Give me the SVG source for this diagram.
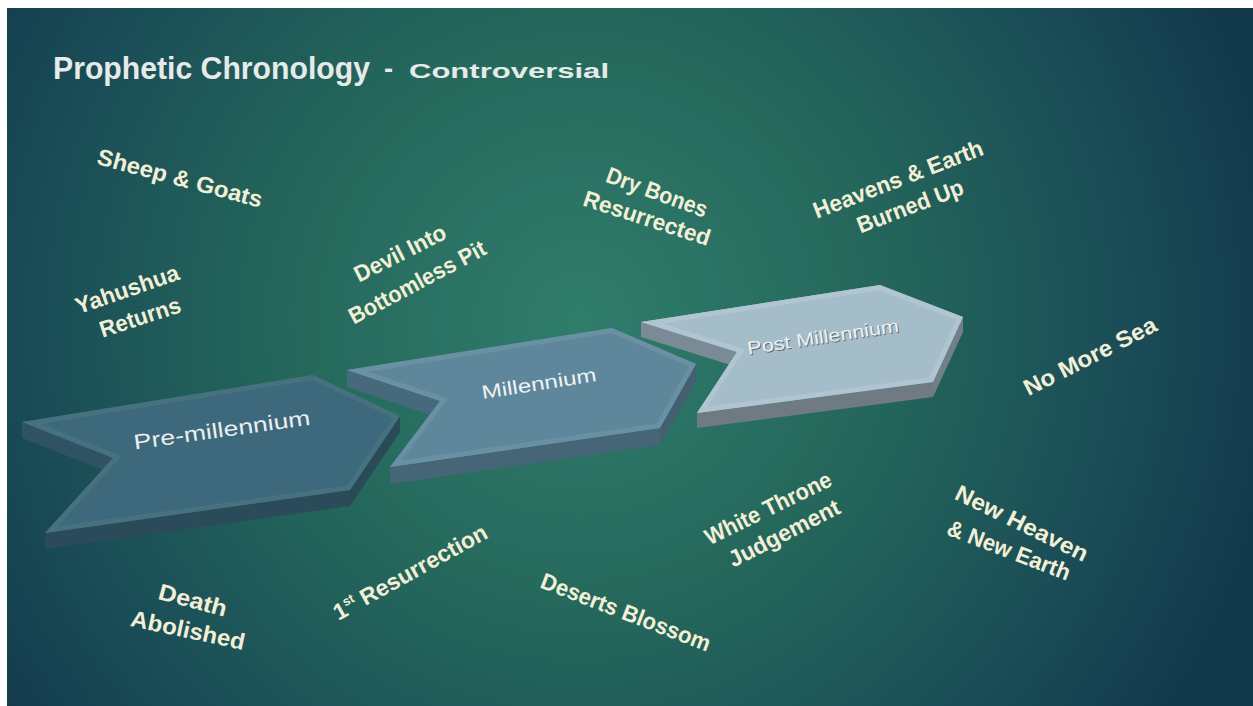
<svg xmlns="http://www.w3.org/2000/svg" width="1253" height="706" viewBox="0 0 1253 706">
<defs>
<radialGradient id="bg" gradientUnits="userSpaceOnUse" cx="580" cy="320" r="720">
<stop offset="0" stop-color="#307d6c"/>
<stop offset="0.4" stop-color="#25685b"/>
<stop offset="0.75" stop-color="#1a4d57"/>
<stop offset="1" stop-color="#12384b"/>
</radialGradient>
<clipPath id="c1"><polygon points="22,422 313,375 400,416 350,490 45,533 113,458"/></clipPath>
<clipPath id="c2"><polygon points="347,370 612,328 696,364 660,428 390,467 440,401"/></clipPath>
<clipPath id="c3"><polygon points="641,322 880,285 963,317 933,382 697,413 737,352"/></clipPath>
</defs>
<style>
.lbl{font-family:"Liberation Sans",Arial,sans-serif;font-weight:bold;font-size:23px;fill:#f3efd6;text-anchor:middle}
.ttl{font-family:"Liberation Sans",Arial,sans-serif;font-weight:bold;fill:#e6ebe8}
.chv{font-family:"Liberation Sans",Arial,sans-serif;text-anchor:middle}
</style>
<rect x="0" y="0" width="1253" height="706" fill="#ffffff"/>
<rect x="7" y="8" width="1246" height="698" fill="url(#bg)"/>

<g id="title">
<text class="ttl" x="53" y="79" font-size="31" textLength="317" lengthAdjust="spacingAndGlyphs">Prophetic Chronology</text>
<text class="ttl" x="384" y="78" font-size="27">-</text>
<text class="ttl" x="409" y="78" font-size="21" textLength="200" lengthAdjust="spacingAndGlyphs">Controversial</text>
</g>

<g id="chevron-pre">
<polygon points="113,458 22,422 22,438 113,474" fill="#2f5364"/>
<polygon points="400,416 350,490 350,506 400,432" fill="#2a4a59"/>
<polygon points="350,490 45,533 45,549 350,506" fill="#2c4b5a"/>
<polygon points="22,422 313,375 400,416 350,490 45,533 113,458" fill="#3e687b"/>
<polygon points="22,422 313,375 400,416 350,490 45,533 113,458" fill="none" stroke="#46717f" stroke-width="10" clip-path="url(#c1)"/>
<text class="chv" x="223" y="437" font-size="21" fill="#e9eef0" textLength="178" lengthAdjust="spacingAndGlyphs" transform="rotate(-8 223 437)">Pre-millennium</text>
</g>

<g id="chevron-mil">
<polygon points="440,401 347,370 347,387 440,418" fill="#46697c"/>
<polygon points="696,364 660,428 660,445 696,381" fill="#435f70"/>
<polygon points="660,428 390,467 390,484 660,445" fill="#466577"/>
<polygon points="347,370 612,328 696,364 660,428 390,467 440,401" fill="#5e879b"/>
<polygon points="347,370 612,328 696,364 660,428 390,467 440,401" fill="none" stroke="#6990a3" stroke-width="10" clip-path="url(#c2)"/>
<text class="chv" x="540" y="390" font-size="19" fill="#eef2f4" textLength="116" lengthAdjust="spacingAndGlyphs" transform="rotate(-9 540 390)">Millennium</text>
</g>

<g id="chevron-post">
<polygon points="737,352 641,322 641,337 737,367" fill="#7b8b96"/>
<polygon points="963,317 933,382 933,397 963,332" fill="#737f88"/>
<polygon points="933,382 697,413 697,428 933,397" fill="#6f7a83"/>
<polygon points="641,322 880,285 963,317 933,382 697,413 737,352" fill="#a5bcc9"/>
<polygon points="641,322 880,285 963,317 933,382 697,413 737,352" fill="none" stroke="#afc5d1" stroke-width="10" clip-path="url(#c3)"/>
<text class="chv" x="825" y="344" font-size="18" fill="#5d6b74" textLength="153" lengthAdjust="spacingAndGlyphs" transform="rotate(-8.6 825 344)">Post Millennium</text>
<text class="chv" x="824" y="343" font-size="18" fill="#eef2f4" textLength="153" lengthAdjust="spacingAndGlyphs" transform="rotate(-8.6 824 343)">Post Millennium</text>
</g>

<g id="labels">
<g id="sheep-goats"><text class="lbl" x="180" y="178" dy="0.35em" textLength="170" lengthAdjust="spacingAndGlyphs" transform="rotate(15 180 178)">Sheep &amp; Goats</text></g>
<g id="yahushua-returns">
<text class="lbl" x="127" y="289" dy="0.35em" textLength="108" lengthAdjust="spacingAndGlyphs" transform="rotate(-19 127 289)">Yahushua</text>
<text class="lbl" x="140" y="317" dy="0.35em" textLength="84" lengthAdjust="spacingAndGlyphs" transform="rotate(-18 140 317)">Returns</text>
</g>
<g id="devil-pit">
<text class="lbl" x="400" y="253" dy="0.35em" textLength="100" lengthAdjust="spacingAndGlyphs" transform="rotate(-27 400 253)">Devil Into</text>
<text class="lbl" x="417" y="282" dy="0.35em" textLength="152" lengthAdjust="spacingAndGlyphs" transform="rotate(-28 417 282)">Bottomless Pit</text>
</g>
<g id="dry-bones">
<text class="lbl" x="657" y="192" dy="0.35em" textLength="106" lengthAdjust="spacingAndGlyphs" transform="rotate(20 657 192)">Dry Bones</text>
<text class="lbl" x="647" y="218" dy="0.35em" textLength="132" lengthAdjust="spacingAndGlyphs" transform="rotate(18 647 218)">Resurrected</text>
</g>
<g id="heavens-earth">
<text class="lbl" x="898" y="179" dy="0.35em" textLength="180" lengthAdjust="spacingAndGlyphs" transform="rotate(-21 898 179)">Heavens &amp; Earth</text>
<text class="lbl" x="910" y="206" dy="0.35em" textLength="112" lengthAdjust="spacingAndGlyphs" transform="rotate(-21 910 206)">Burned Up</text>
</g>
<g id="no-more-sea"><text class="lbl" x="1090" y="356" dy="0.35em" textLength="146" lengthAdjust="spacingAndGlyphs" transform="rotate(-27 1090 356)">No More Sea</text></g>
<g id="death-abolished">
<text class="lbl" x="193" y="600" dy="0.35em" textLength="70" lengthAdjust="spacingAndGlyphs" transform="rotate(15 193 600)">Death</text>
<text class="lbl" x="188" y="630" dy="0.35em" textLength="116" lengthAdjust="spacingAndGlyphs" transform="rotate(12 188 630)">Abolished</text>
</g>
<g id="first-resurrection"><text class="lbl" x="410" y="572" dy="0.35em" transform="rotate(-29 410 572)"><tspan>1</tspan><tspan font-size="13" dy="-9">st</tspan><tspan dy="9"> Resurrection</tspan></text></g>
<g id="deserts-blossom"><text class="lbl" x="626" y="612" dy="0.35em" textLength="180" lengthAdjust="spacingAndGlyphs" transform="rotate(21 626 612)">Deserts Blossom</text></g>
<g id="white-throne">
<text class="lbl" x="768" y="508" dy="0.35em" textLength="138" lengthAdjust="spacingAndGlyphs" transform="rotate(-26 768 508)">White Throne</text>
<text class="lbl" x="784" y="533" dy="0.35em" textLength="122" lengthAdjust="spacingAndGlyphs" transform="rotate(-27 784 533)">Judgement</text>
</g>
<g id="new-heaven-earth">
<text class="lbl" x="1022" y="523" dy="0.35em" textLength="145" lengthAdjust="spacingAndGlyphs" transform="rotate(26 1022 523)">New Heaven</text>
<text class="lbl" x="1009" y="550" dy="0.35em" textLength="130" lengthAdjust="spacingAndGlyphs" transform="rotate(21 1009 550)">&amp; New Earth</text>
</g>
</g>
</svg>
